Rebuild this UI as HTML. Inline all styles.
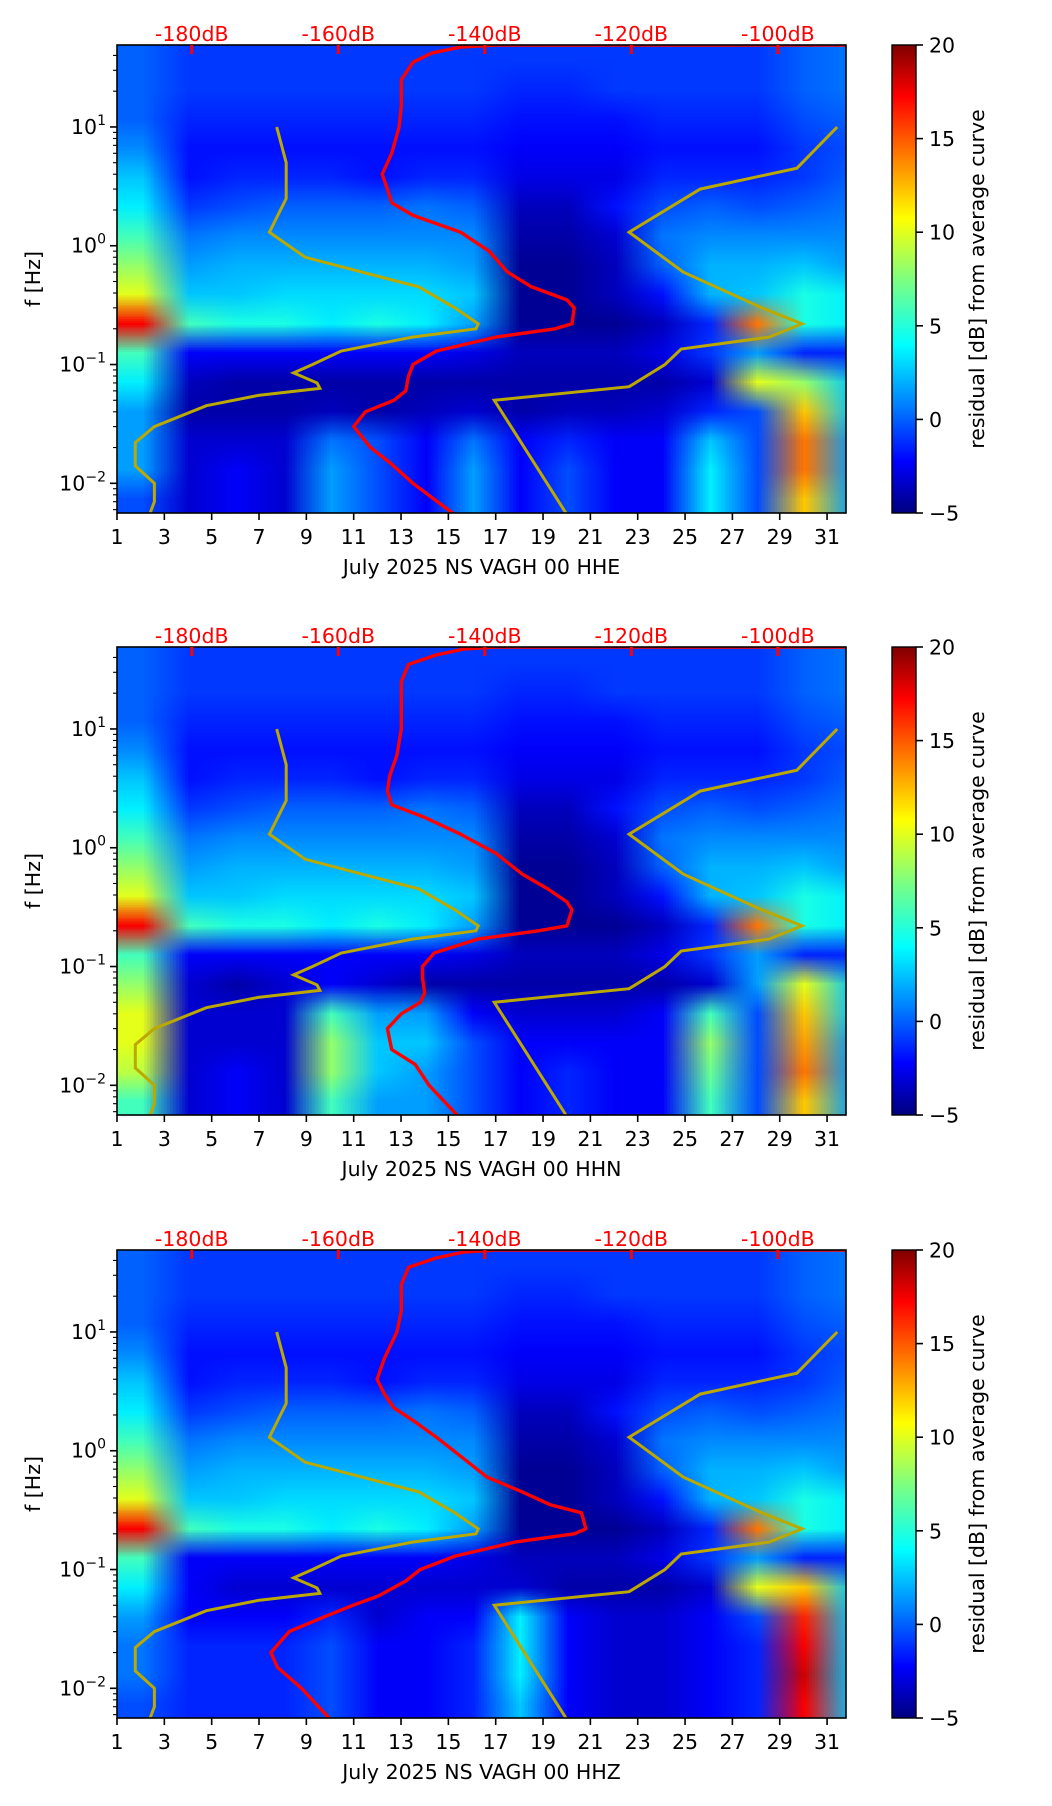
<!DOCTYPE html>
<html><head><meta charset="utf-8">
<style>
html,body{margin:0;padding:0;background:#fff;}
#root{position:relative;width:1052px;height:1806px;overflow:hidden;font-family:"DejaVu Sans","Liberation Sans",sans-serif;}
canvas.hm{position:absolute;}
svg{position:absolute;left:0;top:0;}
.cb{position:absolute;width:24px;height:468px;left:892px;background:linear-gradient(to top,#00007f 0%,#0000ff 11%,#007fff 23%,#00ffff 36%,#7fff7f 50%,#ffff00 63%,#ff7f00 76%,#ff0000 89%,#7f0000 100%);}
</style></head>
<body>
<div id="root">
<svg id="ov" width="1052" height="1806"></svg>
</div>
<script>
// ---- data ----
const panelLabels = ["July 2025 NS VAGH 00 HHE","July 2025 NS VAGH 00 HHN","July 2025 NS VAGH 00 HHZ"];
const xTicks = [1,3,5,7,9,11,13,15,17,19,21,23,25,27,29,31];
const dbTicks = [-180,-160,-140,-120,-100];
const yTickExps = [1,0,-1,-2];
const cbTicks = [20,15,10,5,0,-5];
// residual grid: 16 rows (top to bottom, high f -> low f), 16 columns (2-day bins from day 1)
const gridHHE = [
[0.5,-0.5,-0.5,-0.5,-0.5,-0.5,-0.5,-0.5,-0.5,-0.5,-0.5,-0.5,-0.5,-0.5,0.5,1],
[0.5,-0.5,-0.5,-0.5,-0.5,-0.5,-0.5,-0.5,-1,-1,-0.5,-0.5,-0.5,-0.5,0.5,1],
[0.5,-1,-1,-1,-1,-1,-1,-1,-1.5,-1.5,-1.5,-1,-1,-1,0,0.5],
[1.5,-1.5,-1.5,-1.5,-1.5,-1.5,-1.5,-1.5,-2,-2,-2,-1.5,-1.5,-1.5,-0.5,0],
[3,-1.5,-1,-1,-1,-1.5,-1,-1,-2.5,-2.5,-2.5,-1,-1,-1,-0.5,0.5],
[4,-0.5,0,0.5,0.5,0.5,1,0.5,-3.5,-3.5,-1.5,0,0.5,0,0.5,1],
[6,1,1.5,1.5,1.5,1.5,1.5,1.5,-4,-4,-3,1,1.5,1.5,1.5,1.5],
[8,2,2.5,2.5,2.5,2.5,2.5,2,-4.5,-4.5,-3.5,0.5,2.5,2.5,3,2],
[10,3,3,3.5,3.5,3.5,3.5,3,-4.5,-4.5,-3.5,-1.5,2.5,3,5,4],
[17,6,5,5,4,5,4,2,-4.5,-4.5,-4.5,-3.5,-1,14,5,4],
[6,-2,-2,-2,-2,-2,-2,-2.5,-3.5,-3.5,-3.5,-2.5,-0.5,2,-1,-1],
[4,-3.5,-4,-4,-4,-4,-4,-4,-4,-4,-4,-4,-3,10,8,3],
[2,-4,-4,-4,-3.5,-4,-3.5,-3,-4,-3.5,-3.5,-3,-1,0,12,3],
[2,-3,-3,-3,1,0,-2,1,-2,-1,-2,-2,3,0,14,2],
[2,-3,-2,-3,2,0,-2,2,-2,0,-2,-2,4,0,14,2],
[0,-3,-2,-3,2,0,-2,2,-2,0,-2,-2,4,0,12,2]];
const gridHHN = [
[0.5,-0.5,-0.5,-0.5,-0.5,-0.5,-0.5,-0.5,-0.5,-0.5,-0.5,-0.5,-0.5,-0.5,0.5,1],
[0.5,-0.5,-0.5,-0.5,-0.5,-0.5,-0.5,-0.5,-1,-1,-0.5,-0.5,-0.5,-0.5,0.5,1],
[0.5,-1,-1,-1,-1,-1,-1,-1,-1.5,-1.5,-1.5,-1,-1,-1,0,0.5],
[1.5,-1.5,-1.5,-1.5,-1.5,-1.5,-1.5,-1.5,-2,-2,-2,-1.5,-1.5,-1.5,-0.5,0],
[3,-1.5,-1,-1,-1,-1.5,-1,-1,-2.5,-2.5,-2.5,-1,-1,-1,-0.5,0.5],
[4,-0.5,0,0.5,0.5,0.5,1,0.5,-3.5,-3.5,-1.5,0,0.5,0,0.5,1],
[6,1,1.5,1.5,1.5,1.5,1.5,1.5,-4,-4,-3,1,1.5,1.5,1.5,1.5],
[8,2,2.5,2.5,2.5,2.5,2.5,2,-4.5,-4.5,-3.5,0.5,2.5,2.5,3,2],
[10,3,3,3.5,3.5,3.5,3.5,3,-4.5,-4.5,-3.5,-1.5,2.5,3,5,4],
[17,6,5,5,4,5,4,2,-4.5,-4.5,-4.5,-3.5,-1,14,5,4],
[6,-2,-2,-2,-2,-2,-2,-2.5,-3.5,-3.5,-3.5,-2.5,-0.5,2,-1,-1],
[8,-3,-4,-3,-2,-3,-4,-4,-4,-4,-4,-4,-3,2,10,3],
[10,-3,-3,-3,6,2,2,-2,-3,-3,-3,-2,6,0,12,3],
[10,-3,-3,-3,8,3,3,0,-2,-2,-2,-2,8,0,13,2],
[9,-3,-2,-3,8,3,2,0,-2,-1,-2,-2,7,0,14,2],
[6,-3,-2,-3,6,2,2,0,-2,-1,-2,-2,6,0,12,2]];
const gridHHZ = [
[0.5,-0.5,-0.5,-0.5,-0.5,-0.5,-0.5,-0.5,-0.5,-0.5,-0.5,-0.5,-0.5,-0.5,0.5,1],
[0.5,-0.5,-0.5,-0.5,-0.5,-0.5,-0.5,-0.5,-1,-1,-0.5,-0.5,-0.5,-0.5,0.5,1],
[0.5,-1,-1,-1,-1,-1,-1,-1,-1.5,-1.5,-1.5,-1,-1,-1,0,0.5],
[1.5,-1.5,-1.5,-1.5,-1.5,-1.5,-1.5,-1.5,-2,-2,-2,-1.5,-1.5,-1.5,-0.5,0],
[3,-1.5,-1,-1,-1,-1.5,-1,-1,-2.5,-2.5,-2.5,-1,-1,-1,-0.5,0.5],
[4,-0.5,0,0.5,0.5,0.5,1,0.5,-3.5,-3.5,-1.5,0,0.5,0,0.5,1],
[6,1,1.5,1.5,1.5,1.5,1.5,1.5,-4,-4,-3,1,1.5,1.5,1.5,1.5],
[8,2,2.5,2.5,2.5,2.5,2.5,2,-4.5,-4.5,-3.5,0.5,2.5,2.5,3,2],
[10,3,3,3.5,3.5,3.5,3.5,3,-4.5,-4.5,-3.5,-1.5,2.5,3,5,4],
[17,6,5,5,4,5,4,2,-4.5,-4.5,-4.5,-3.5,-1,14,5,4],
[6,-2,-2,-2,-2,-2,-2,-2.5,-3.5,-3.5,-3.5,-2.5,-0.5,2,-1,-1],
[4,-2,-3,-3,-3,-3,-3,-3,-3,-4,-4,-4,-3,10,12,3],
[2,-2,-2,-2,-1,-3,-2,-2,4,-2,-3,-3,-2,0,16,3],
[1,-1,-1,-1,0,-2,-2,-1,4,-2,-3,-3,-2,-1,17,3],
[1,-1,-1,-1,0,-2,-2,-1,4,-2,-3,-3,-2,-1,18,3],
[0,-1,-1,-1,0,-2,-2,-1,3,-2,-3,-3,-2,-1,17,3]];
const grids = [gridHHE, gridHHN, gridHHZ];
// red PSD curves: frequency [Hz] and power [dB]
const redFreq = [0.005,0.01,0.015,0.02,0.03,0.04,0.05,0.06,0.08,0.1,0.13,0.17,0.2,0.22,0.3,0.35,0.45,0.6,0.9,1.3,1.8,2.3,3,4,6,10,15,25,35,42,47,49,49];
const redDbHHE = [-143.3,-149.8,-153,-155.6,-157.9,-156.3,-152.4,-150.8,-150.4,-149.8,-146.6,-138.5,-130.4,-128.1,-127.8,-128.8,-133.6,-136.9,-139.4,-143.3,-149.8,-152.7,-153.3,-154,-152.7,-151.7,-151.4,-151.4,-149.8,-147.2,-143.3,-138.5,-90.7];
const redDbHHN = [-143,-147.6,-149.5,-152.7,-153.3,-151.4,-148.8,-148.2,-148.5,-148.5,-146.9,-141,-132.7,-128.8,-128.1,-128.8,-131.4,-134.9,-138.5,-143.3,-148.2,-152.7,-153.3,-153,-152,-151.4,-151.4,-151.4,-150.4,-146.6,-142.9,-138.5,-90.7];
const redDbHHZ = [-160.5,-165,-168.3,-169.2,-166.7,-161.9,-158,-154.5,-150.8,-148.8,-144,-135.9,-127.8,-126.2,-126.8,-131,-134.9,-139.7,-143.3,-146.6,-149.8,-152.4,-153.7,-154.7,-153.7,-152,-151.4,-151.4,-150.4,-146.6,-142.9,-138.5,-90.7];
const redDb = [redDbHHE, redDbHHN, redDbHHZ];
// olive reference model curves (low / high)
const lowFreq = [10,5,2.5,1.3,0.8,0.45,0.3,0.22,0.2,0.17,0.13,0.1,0.085,0.07,0.063,0.055,0.045,0.03,0.022,0.014,0.01,0.007,0.005];
const lowDb = [-168.4,-167.1,-167.1,-169.4,-164.5,-149,-144.1,-140.9,-141.2,-149.9,-159.6,-163.5,-166.1,-162.9,-162.5,-170.9,-178,-185.1,-187.7,-187.7,-185.1,-185.1,-186];
const highFreq = [10,4.5,3,1.3,0.6,0.3,0.22,0.17,0.135,0.1,0.065,0.05,0.005];
const highDb = [-91.9,-97.4,-110.6,-120.3,-112.9,-102.2,-96.7,-101.2,-113.2,-115.4,-120.3,-138.7,-128.4];

// ---- layout ----
const tops = [45,647,1250];
const L = 117, W = 729, H = 468;
const dayMin = 1, dayMax = 31.8;
const logMax = 1.69, logMin = -2.25;
const dbMin = -190.2, dbMax = -90.7;
const xDay = d => L + (d - dayMin) / (dayMax - dayMin) * W;
const xDb = v => L + (v - dbMin) / (dbMax - dbMin) * W;
const yF = (f, t) => t + (logMax - Math.log10(f)) / (logMax - logMin) * H;

function jet(v){
  let t = Math.max(0, Math.min(1, (v + 5) / 25));
  const cl = x => Math.max(0, Math.min(1, x));
  const r = cl(Math.min(4*t - 1.5, -4*t + 4.5));
  const g = cl(Math.min(4*t - 0.5, -4*t + 3.5));
  const b = cl(Math.min(4*t + 0.5, -4*t + 2.5));
  return [Math.round(r*255), Math.round(g*255), Math.round(b*255)];
}

const root = document.getElementById('root');
const svg = document.getElementById('ov');
const NS = 'http://www.w3.org/2000/svg';
function mk(tag, attrs, parent){
  const e = document.createElementNS(NS, tag);
  for (const k in attrs) e.setAttribute(k, attrs[k]);
  (parent || svg).appendChild(e);
  return e;
}

grids.forEach((grid, p) => {
  const top = tops[p];
  const small = document.createElement('canvas');
  small.width = grid[0].length; small.height = grid.length;
  const sctx = small.getContext('2d');
  const img = sctx.createImageData(small.width, small.height);
  grid.forEach((row, i) => row.forEach((v, j) => {
    const c = jet(v); const k = (i*small.width + j)*4;
    img.data[k]=c[0]; img.data[k+1]=c[1]; img.data[k+2]=c[2]; img.data[k+3]=255;
  }));
  sctx.putImageData(img, 0, 0);
  const cv = document.createElement('canvas');
  cv.className = 'hm'; cv.width = W; cv.height = H;
  cv.style.left = L + 'px'; cv.style.top = top + 'px';
  
  
  const ctx = cv.getContext('2d');
  ctx.imageSmoothingEnabled = true;
  ctx.drawImage(small, 0, 0, (xDay(dayMin + 2*small.width) - L), H);
  root.insertBefore(cv, svg);

  const g = mk('g', {});
  
  
  const cp = mk('clipPath', {id:'clip'+p}, g);
  mk('rect', {x:L, y:top, width:W, height:H}, cp);

  [[lowFreq, lowDb, 'low-noise-model-line'], [highFreq, highDb, 'high-noise-model-line']].forEach(([fr, db, nm]) => {
    const pts = fr.map((f, i) => xDb(db[i]).toFixed(1) + ',' + yF(f, top).toFixed(1)).join(' ');
    const pl = mk('polyline', {points: pts, fill:'none', stroke:'#bba800', 'stroke-width':3, 'clip-path':'url(#clip'+p+')'}, g);
    
    
  });
  const rpts = redFreq.map((f, i) => xDb(redDb[p][i]).toFixed(1) + ',' + yF(f, top).toFixed(1)).join(' ');
  const rl = mk('polyline', {points: rpts, fill:'none', stroke:'#ff0000', 'stroke-width':3.4, 'stroke-linejoin':'round', 'clip-path':'url(#clip'+p+')'}, g);
  
  

  const fr = mk('rect', {x:L, y:top, width:W, height:H, fill:'none', stroke:'#000', 'stroke-width':1.6}, g);
  
  

  xTicks.forEach(d => {
    const x = xDay(d);
    mk('line', {x1:x, x2:x, y1:top+H, y2:top+H+7, stroke:'#000', 'stroke-width':1.6}, g);
    const t = mk('text', {x:x, y:top+H+31, 'font-size':20.5, 'text-anchor':'middle', fill:'#000'}, g);
    t.textContent = d;
    
    
  });
  const xl = mk('text', {x:L+W/2, y:top+H+61, 'font-size':20.5, 'text-anchor':'middle', fill:'#000'}, g);
  xl.textContent = panelLabels[p];
  
  

  dbTicks.forEach(v => {
    const x = xDb(v);
    mk('rect', {x:x-1.5, y:top, width:3, height:9, fill:'#ff0000'}, g);
    const t = mk('text', {x:x, y:top-4, 'font-size':20.5, 'text-anchor':'middle', fill:'#ff0000'}, g);
    t.textContent = v + 'dB';
    
    
  });

  for (let e = -3; e <= 1; e++) {
    for (let k = 1; k <= 9; k++) {
      const f = k * Math.pow(10, e);
      const lf = Math.log10(f);
      if (lf < logMin || lf > logMax) continue;
      const y = yF(f, top);
      mk('line', {x1:L, x2:L-(k===1?7:4), y1:y, y2:y, stroke:'#000', 'stroke-width':k===1?1.6:1.1}, g);
    }
  }
  yTickExps.forEach(e => {
    const y = yF(Math.pow(10, e), top);
    const t = mk('text', {x:L-11, y:y+7, 'font-size':20.5, 'text-anchor':'end', fill:'#000'}, g);
    
    
    const a = mk('tspan', {}, t); a.textContent = '10';
    const b = mk('tspan', {dy:-9, 'font-size':14}, t); b.textContent = (e < 0 ? '\u2212' + (-e) : e);
  });
  const yl = mk('text', {x:0, y:0, 'font-size':20.5, 'text-anchor':'middle', fill:'#000', transform:`translate(40,${top+H/2}) rotate(-90)`}, g);
  yl.textContent = 'f [Hz]';
  
  

  const cb = document.createElement('div');
  cb.className = 'cb'; cb.style.top = top + 'px';
  
  
  root.insertBefore(cb, svg);
  mk('rect', {x:892, y:top, width:24, height:H, fill:'none', stroke:'#000', 'stroke-width':1.4}, g);
  cbTicks.forEach(v => {
    const y = top + (20 - v) / 25 * H;
    mk('line', {x1:916, x2:923, y1:y, y2:y, stroke:'#000', 'stroke-width':1.6}, g);
    const t = mk('text', {x:929, y:y+7.5, 'font-size':20.5, fill:'#000'}, g);
    t.textContent = v < 0 ? '\u2212' + (-v) : v;
    
    
  });
  const cl = mk('text', {x:0, y:0, 'font-size':20.5, 'text-anchor':'middle', fill:'#000', transform:`translate(984,${top+H/2}) rotate(-90)`}, g);
  cl.textContent = 'residual [dB] from average curve';
  
  
});
</script>
</body></html>
